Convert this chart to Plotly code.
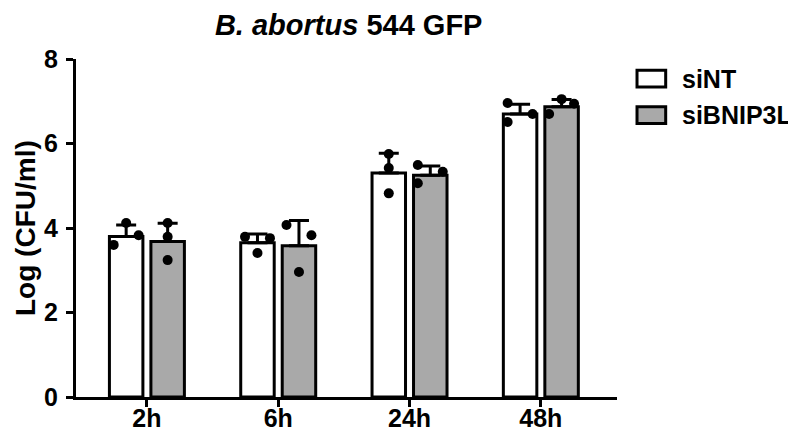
import plotly.graph_objects as go

# 数据
timepoints = ['2h', '6h', '24h', '48h']
series_names = ['siNT', 'siBNIP3L']

sint_mean = [3.80, 3.65, 5.30, 6.70]
sint_sd = [0.27, 0.21, 0.47, 0.23]
sint_points = [[3.60, 4.12, 3.83], [3.79, 3.41, 3.76], [5.75, 5.42, 4.82], [6.96, 6.51, 6.70]]

sibnip_mean = [3.68, 3.58, 5.25, 6.87]
sibnip_sd = [0.43, 0.60, 0.22, 0.17]
sibnip_points = [[4.12, 3.79, 3.24], [4.07, 3.83, 2.96], [5.49, 5.33, 5.06], [7.05, 6.94, 6.70]]

# 点的水平散布（样式）
sint_jitter = [[-1, 0, 1], [-1, 0, 1], [0, 0, 0], [-1, -1, 1]]
sibnip_jitter = [[0, 0, 0], [-1, 1, 0], [-1, 1, -1], [0, 1, -1]]

BAR_OFFSET = 0.158
BAR_WIDTH = 0.255
JITTER = 0.095
FONT = 'Liberation Sans, Arial, sans-serif'

fig = go.Figure()

groups = [
    (sint_mean, sint_sd, sint_points, sint_jitter, 'white', -BAR_OFFSET),
    (sibnip_mean, sibnip_sd, sibnip_points, sibnip_jitter, '#a9a9a9', BAR_OFFSET),
]

for name, (mean, sd, pts, jit, color, off) in zip(series_names, groups):
    fig.add_trace(go.Bar(
        x=[i + off for i in range(len(timepoints))],
        y=mean,
        width=BAR_WIDTH,
        name=name,
        marker=dict(color=color, line=dict(color='black', width=3)),
        error_y=dict(type='data', array=sd, arrayminus=[0] * len(sd),
                     symmetric=False, color='black', thickness=3, width=10),
        showlegend=False,
    ))

for name, (mean, sd, pts, jit, color, off) in zip(series_names, groups):
    xs, ys = [], []
    for i, (vals, js) in enumerate(zip(pts, jit)):
        for v, j in zip(vals, js):
            xs.append(i + off + j * JITTER)
            ys.append(v)
    fig.add_trace(go.Scatter(
        x=xs, y=ys, mode='markers',
        marker=dict(color='black', size=10),
        showlegend=False, hoverinfo='y',
    ))

# 自定义图例
legend_rows = [0.942, 0.834]
for name, (mean, sd, pts, jit, color, off), yc in zip(series_names, groups, legend_rows):
    fig.add_shape(type='rect', xref='paper', yref='paper',
                  x0=1.037, x1=1.090, y0=yc - 0.025, y1=yc + 0.025,
                  fillcolor=color, line=dict(color='black', width=3))
    fig.add_annotation(x=1.117, y=yc, xref='paper', yref='paper',
                       text=f'<b>{name}</b>', showarrow=False,
                       xanchor='left', yanchor='middle',
                       font=dict(size=25, color='black', family=FONT))

# y 轴标题
fig.add_annotation(x=-0.0943, y=0.5, xref='paper', yref='paper',
                   text='<b>Log (CFU/ml)</b>', textangle=-90, showarrow=False,
                   xanchor='center', yanchor='middle',
                   font=dict(size=28, color='black', family=FONT))

# 页面 body 有 8px 边距，这里在边距里抵消
fig.update_layout(
    width=796, height=438,
    margin=dict(l=68, r=187, t=51, b=49),
    plot_bgcolor='white', paper_bgcolor='white',
    font=dict(family=FONT, size=26, color='black'),
    title=dict(text='<b><i>B. abortus</i> 544 GFP</b>', x=0.428, xanchor='center',
               y=0.961, yanchor='middle', font=dict(size=29)),
    barmode='overlay',
)

fig.update_xaxes(
    range=[-0.54, 3.58], tickvals=list(range(len(timepoints))),
    ticktext=[f'<b>{t}</b>' for t in timepoints],
    showline=True, linecolor='black', linewidth=3,
    ticks='outside', ticklen=7, tickwidth=3, tickcolor='black',
    showgrid=False, zeroline=False, automargin=False,
    tickfont=dict(size=25), ticklabelstandoff=-10,
)
fig.update_yaxes(
    range=[0, 8], tickvals=[0, 2, 4, 6, 8],
    ticktext=['<b>0</b>', '<b>2</b>', '<b>4</b>', '<b>6</b>', '<b>8</b>'],
    showline=True, linecolor='black', linewidth=3,
    ticks='outside', ticklen=7, tickwidth=3, tickcolor='black',
    showgrid=False, zeroline=False, automargin=False,
    tickfont=dict(size=25), ticklabelstandoff=3,
)

fig.write_html("out.html")
